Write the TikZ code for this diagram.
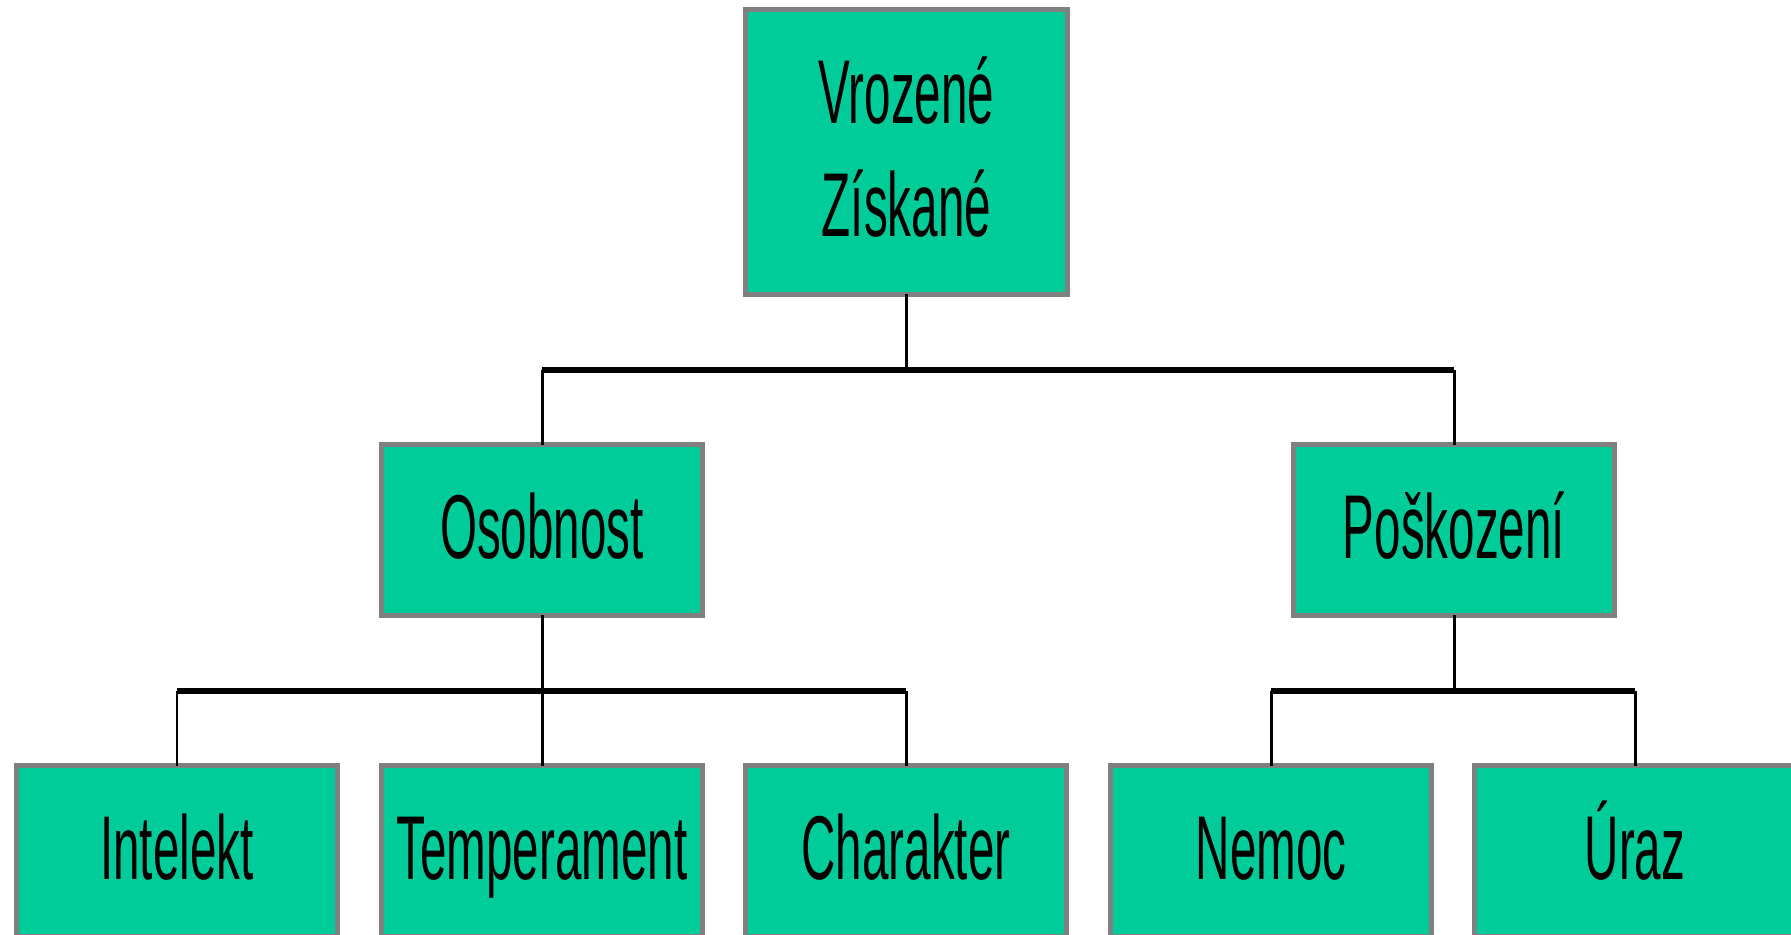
\documentclass[tikz,border=0pt]{standalone}
\usepackage{fontspec}
\setmainfont{Liberation Sans}[FakeStretch=0.525]
\definecolor{boxfill}{RGB}{0,204,153}
\definecolor{boxline}{RGB}{128,128,128}
\tikzset{
  orgbox/.style={draw=boxline, fill=boxfill, line width=3.2pt, rectangle,
    inner sep=0pt, outer sep=0pt, minimum width=6.42cm, minimum height=3.42cm,
    text=black, font=\fontsize{51.6pt}{64.8pt}\selectfont,
    text height=1.12cm, text depth=0pt},
  hbus/.style={line width=3.4pt, black},
  vlink/.style={line width=1.7pt, black}
}
\begin{document}
\begin{tikzpicture}[x=0.02cm, y=-0.02cm]
\useasboundingbox (0,0) rectangle (1791,934);
\clip (0,0) rectangle (1791,934);
\fill[white] (0,0) rectangle (1791,934);
% nodes
\node[orgbox, minimum width=6.44cm, minimum height=5.7cm, text height=0pt, text depth=1.16cm] (top) at (906.5,152)
  {\begin{tabular}[t]{@{}c@{}}Vrozené\\Získané\end{tabular}};
\node[orgbox] (osob) at (542,530) {Osobnost};
\node[orgbox] (posk) at (1454,530) {Poškození};
\node[orgbox] (intel) at (177,851) {Intelekt};
\node[orgbox] (temp) at (542,851) {Temperament};
\node[orgbox] (char) at (906,851) {Charakter};
\node[orgbox] (nemoc) at (1271,851) {Nemoc};
\node[orgbox] (uraz) at (1635,851) {Úraz};
% bus coordinates
\coordinate (busA) at (0,370);
\coordinate (busB) at (0,691);
% level 1
\draw[vlink] (top.south) -- (top.south |- busA);
\draw[hbus] (osob.north |- busA) -- (posk.north |- busA);
\draw[vlink] (osob.north |- busA) -- (osob.north);
\draw[vlink] (posk.north |- busA) -- (posk.north);
% level 2 left
\draw[vlink] (osob.south) -- (osob.south |- busB);
\draw[hbus] (intel.north |- busB) -- (char.north |- busB);
\draw[vlink] (intel.north |- busB) -- (intel.north);
\draw[vlink] (temp.north |- busB) -- (temp.north);
\draw[vlink] (char.north |- busB) -- (char.north);
% level 2 right
\draw[vlink] (posk.south) -- (posk.south |- busB);
\draw[hbus] (nemoc.north |- busB) -- (uraz.north |- busB);
\draw[vlink] (nemoc.north |- busB) -- (nemoc.north);
\draw[vlink] (uraz.north |- busB) -- (uraz.north);
\end{tikzpicture}
\end{document}
